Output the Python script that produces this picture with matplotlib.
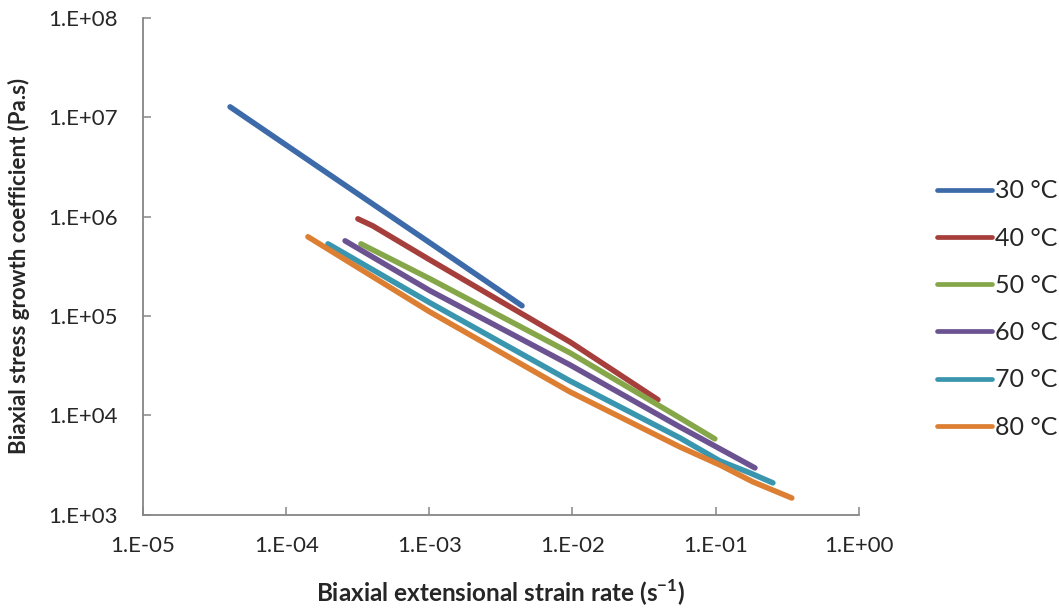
import matplotlib
matplotlib.use('Agg')
import matplotlib.pyplot as plt
import matplotlib.ticker as ticker
import numpy as np

plt.rcParams['font.family'] = ['Lato', 'DejaVu Sans']

LABELS = ['30 °C', '40 °C', '50 °C', '60 °C', '70 °C', '80 °C']
COLORS = ['#3d6aa8', '#a63e3c', '#86a64a', '#6b5392', '#3a96ae', '#dc7f32']

# strain rate (1/s) and stress growth coefficient (Pa.s) per temperature
rate_30 = [4.06e-5, 2.38e-4, 1.01e-3, 4.44e-3]
eta_30 = [1.27e7, 2.24e6, 5.45e5, 1.27e5]

rate_40 = [3.17e-4, 4.03e-4, 1.01e-3, 9.59e-3, 3.95e-2]
eta_40 = [9.5e5, 8.07e5, 3.67e5, 5.5e4, 1.44e4]

rate_50 = [3.33e-4, 1.01e-3, 9.59e-3, 5.62e-2, 9.86e-2]
eta_50 = [5.32e5, 2.37e5, 4.27e4, 9.46e3, 5.82e3]

rate_60 = [2.58e-4, 1.01e-3, 9.59e-3, 5.62e-2, 1.88e-1]
eta_60 = [5.71e5, 1.80e5, 3.23e4, 7.67e3, 2.97e3]

rate_70 = [1.96e-4, 1.01e-3, 9.59e-3, 5.62e-2, 1.07e-1, 1.73e-1, 2.51e-1]
eta_70 = [5.32e5, 1.36e5, 2.23e4, 5.96e3, 3.49e3, 2.65e3, 2.10e3]

rate_80 = [1.42e-4, 1.01e-3, 9.59e-3, 5.62e-2, 1.07e-1, 1.82e-1, 3.40e-1]
eta_80 = [6.27e5, 1.10e5, 1.73e4, 4.83e3, 3.18e3, 2.15e3, 1.48e3]

RATES = [rate_30, rate_40, rate_50, rate_60, rate_70, rate_80]
ETAS = [eta_30, eta_40, eta_50, eta_60, eta_70, eta_80]


def excel_fmt(v, pos):
    return '1.E{:+03d}'.format(int(round(np.log10(v))))


def main():
    fig = plt.figure(figsize=(10.59, 6.13), dpi=100)
    ax = fig.add_axes([0.135, 0.160, 0.676, 0.811])

    for x, y, c, lab in zip(RATES, ETAS, COLORS, LABELS):
        ax.plot(x, y, color=c, lw=4.0, label=lab,
                solid_capstyle='round', solid_joinstyle='round')

    ax.set_xscale('log')
    ax.set_yscale('log')
    ax.set_xlim(1e-5, 1e0)
    ax.set_ylim(1e3, 1e8)
    ax.xaxis.set_major_locator(ticker.FixedLocator([10.0 ** k for k in range(-5, 1)]))
    ax.yaxis.set_major_locator(ticker.FixedLocator([10.0 ** k for k in range(3, 9)]))
    ax.xaxis.set_minor_locator(ticker.NullLocator())
    ax.yaxis.set_minor_locator(ticker.NullLocator())
    ax.xaxis.set_major_formatter(ticker.FuncFormatter(excel_fmt))
    ax.yaxis.set_major_formatter(ticker.FuncFormatter(excel_fmt))

    for side in ['top', 'right']:
        ax.spines[side].set_visible(False)
    for side in ['left', 'bottom']:
        ax.spines[side].set_color('#868686')
        ax.spines[side].set_linewidth(1.3)
    ax.tick_params(axis='both', direction='in', length=6, width=1.1,
                   color='#868686', labelsize=16, labelcolor='#262626')
    ax.tick_params(axis='x', pad=15)
    ax.tick_params(axis='y', pad=18)

    ax.set_xlabel('Biaxial extensional strain rate (s$^{\\mathregular{-1}}$)',
                  fontsize=17.5, fontweight='bold', color='#262626', labelpad=16)
    ax.set_ylabel('Biaxial stress growth coefficient (Pa.s)',
                  fontsize=16, fontweight='bold', color='#262626', labelpad=13)

    leg = fig.legend(loc='center left', bbox_to_anchor=(0.885, 0.496),
                     frameon=False, fontsize=18, handlelength=2.2,
                     handletextpad=0.12, labelspacing=0.97,
                     borderpad=0, borderaxespad=0)
    for t in leg.get_texts():
        t.set_color('#262626')
    for h in leg.get_lines():
        h.set_linewidth(3.4)

    fig.savefig('out.png', dpi=100)


if __name__ == '__main__':
    main()
